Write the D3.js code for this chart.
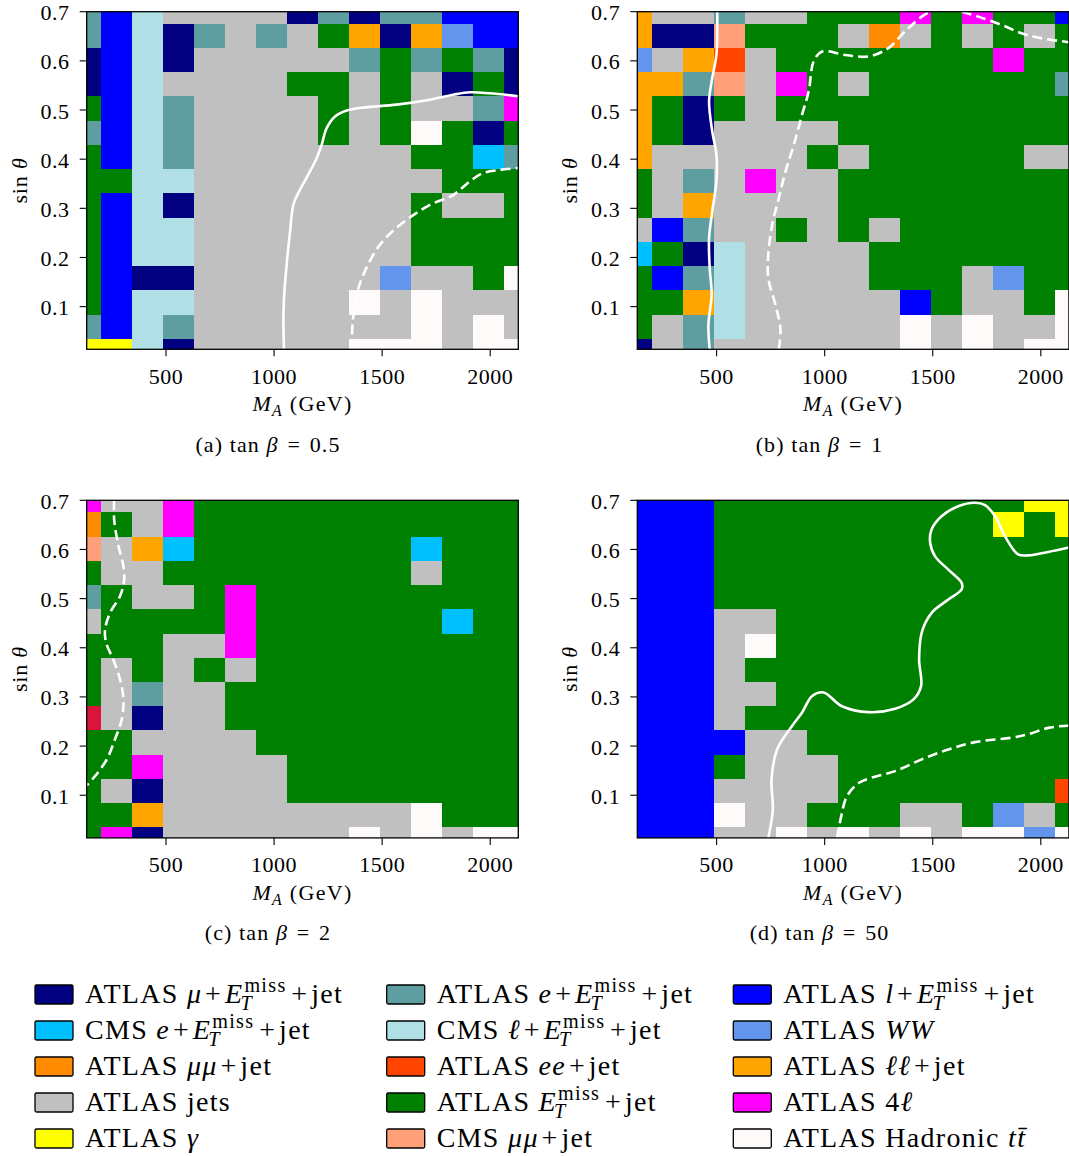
<!DOCTYPE html>
<html><head><meta charset="utf-8">
<script src="https://cdn.jsdelivr.net/npm/d3@7"></script>
<style>
body{margin:0;background:#fff}
svg{display:block}
text{font-family:"Liberation Serif","Times New Roman",serif;fill:#000;white-space:pre}
</style>
</head><body>
<svg id="chart" width="1069" height="1156"></svg>
<script>
// ---------- data ----------
const massCenters = [128,271,415,558,702,845,988,1132,1275,1419,1562,1705,1849,1992,2136];
const sinCenters = [0.7,0.65071,0.60143,0.55214,0.50286,0.45357,0.40429,0.355,0.30571,0.25643,0.20714,0.15786,0.10857,0.05929,0.01];
const xTicks = [500,1000,1500,2000];
const yTicks = [0.1,0.2,0.3,0.4,0.5,0.6,0.7];
const tanBeta = ["0.5","1","2","50"];
const panelTags = ["a","b","c","d"];

const codes = ["N","T","B","D","P","W","O","R","A","S","G","M","Y","L","H","C"];
const palette = ["#000080","#5f9ea0","#0000ff","#00bfff","#b0e0e6","#6495ed","#ff8c00","#ff4500","#ffa500","#c0c0c0","#008000","#ff00ff","#ffff00","#ffa07a","#fffafa","#dc143c"];
const legendLabels = [
  "ATLAS |i:μ|+|E|+|jet",
  "ATLAS |i:e|+|E|+|jet",
  "ATLAS |i:l|+|E|+|jet",
  "CMS |i:e|+|E|+|jet",
  "CMS |i:ℓ|+|E|+|jet",
  "ATLAS |i:WW",
  "ATLAS |i:μμ|+|jet",
  "ATLAS |i:ee|+|jet",
  "ATLAS |i:ℓℓ|+|jet",
  "ATLAS jets",
  "ATLAS |E|+|jet",
  "ATLAS 4|i:ℓ",
  "ATLAS |i:γ",
  "CMS |i:μμ|+|jet",
  "ATLAS Hadronic |i:tt̄"
];

// rows from sinθ = 0.7 (top) to 0.01 (bottom); columns follow massCenters
const gridA = [
  "TBPSSSSNTNTTBBB",
  "TBPNTSTSGANAWBB",
  "NBPNSSSSSTGTGTN",
  "NBPSSSSGGSGSNGN",
  "GBPTSSSSGSGSSTM",
  "TBPTSSSSGSGHGNG",
  "GBPTSSSSSSSGGDT",
  "GGPPSSSSSSSSGGG",
  "GBPNSSSSSSSGSSG",
  "GBPPSSSSSSSGGGG",
  "GBPPSSSSSSSGGGG",
  "GBNNSSSSSSWSSGH",
  "GBPPSSSSSHSHSSS",
  "TBPTSSSSSSSHSHS",
  "YYPNSSSSSHHHSHH"
];
const gridB = [
  "ASSTSSGGGMGMGGB",
  "ANNLGGGSOSGSGSG",
  "WSARSGGGGGGGMGG",
  "AATLSMGSGGGGGGT",
  "AGNGSGGGGGGGGGG",
  "AGNSSSSGGGGGGGG",
  "ASSSSSGSGGGGGSS",
  "GSTSMSSGGGGGGGG",
  "GSASSSSGGGGGGGG",
  "SBTSSGSGSGGGGGG",
  "DGNPSSSSGGGGGGG",
  "GBTPSSSSGGGSWGG",
  "GGAPSSSSSBGSSGH",
  "GSTPSSSSSHSHSSH",
  "NSTSSSSSSHSHSHH"
];
const gridC = [
  "MSSMGGGGGGGGGGG",
  "OGSMGGGGGGGGGGG",
  "LSADGGGGGGGDGGG",
  "GSSGGGGGGGGSGGG",
  "TGSSGMGGGGGGGGG",
  "SGGGGMGGGGGGDGG",
  "GGGSSMGGGGGGGGG",
  "GSGSGSGGGGGGGGG",
  "GSTSSGGGGGGGGGG",
  "CSNSSGGGGGGGGGG",
  "GGSSSSGGGGGGGGG",
  "GGMSSSSGGGGGGGG",
  "GSNSSSSGGGGGGGG",
  "GGASSSSSSSSHGGG",
  "GMNSSSSSSHSHSHH"
];
const gridD = [
  "BBBGGGGGGGGGGYY",
  "BBBGGGGGGGGGYGY",
  "BBBGGGGGGGGGGGG",
  "BBBGGGGGGGGGGGG",
  "BBBGGGGGGGGGGGG",
  "BBBSSGGGGGGGGGG",
  "BBBSHGGGGGGGGGG",
  "BBBSGGGGGGGGGGG",
  "BBBSSGGGGGGGGGG",
  "BBBSGGGGGGGGGGG",
  "BBBBSSGGGGGGGGG",
  "BBBGSSSGGGGGGGG",
  "BBBSSSSGGGGGGGR",
  "BBBHSSGGGSSGWSG",
  "BBBSSHSHSHSHHWH"
];

// contour lines [M_A, sinθ]
const solidA = [[1046,0.0132],[1043,0.070],[1046,0.117],[1058,0.185],[1074,0.253],[1089,0.307],[1112,0.331],[1166,0.375],[1197,0.402],[1220,0.429],[1243,0.463],[1282,0.487],[1336,0.499],[1413,0.505],[1567,0.511],[1721,0.521],[1829,0.531],[1906,0.536],[1998,0.534],[2130,0.528]];
const dashedA = [[1359,0.0132],[1363,0.063],[1382,0.124],[1420,0.172],[1490,0.226],[1582,0.266],[1721,0.307],[1829,0.327],[1906,0.355],[1968,0.372],[2045,0.378],[2130,0.382]];
const solidB = [[503,0.7],[503,0.673],[499,0.612],[477,0.558],[465,0.517],[480,0.456],[499,0.409],[499,0.355],[480,0.294],[465,0.239],[468,0.178],[477,0.124],[462,0.063],[468,0.0132]];
const dashedB1 = [[788,0.0132],[795,0.056],[772,0.104],[739,0.158],[739,0.205],[757,0.266],[788,0.321],[819,0.375],[857,0.429],[895,0.490],[926,0.538],[949,0.599],[988,0.619],[1095,0.612],[1203,0.609],[1295,0.626],[1372,0.660],[1449,0.690],[1488,0.7]];
const dashedB2 = [[1634,0.7],[1711,0.690],[1819,0.673],[1911,0.656],[2003,0.646],[2130,0.638]];
const dashedC = [[260,0.7],[260,0.661],[280,0.607],[303,0.566],[306,0.536],[287,0.505],[241,0.471],[218,0.437],[223,0.410],[256,0.376],[287,0.336],[303,0.295],[295,0.254],[264,0.214],[226,0.173],[172,0.139],[133,0.120]];
const solidD = [[739,0.0132],[760,0.071],[754,0.132],[780,0.193],[849,0.241],[895,0.268],[942,0.302],[995,0.309],[1080,0.281],[1203,0.269],[1326,0.276],[1411,0.295],[1446,0.322],[1437,0.376],[1449,0.431],[1495,0.471],[1572,0.498],[1634,0.519],[1634,0.532],[1572,0.559],[1511,0.586],[1488,0.614],[1495,0.641],[1542,0.668],[1618,0.688],[1695,0.695],[1742,0.690],[1788,0.668],[1834,0.627],[1895,0.590],[1942,0.588],[2034,0.595],[2130,0.604]];
const dashedD = [[1057,0.0132],[1077,0.058],[1103,0.098],[1157,0.125],[1219,0.136],[1326,0.149],[1449,0.173],[1572,0.193],[1695,0.208],[1865,0.217],[1942,0.224],[2034,0.237],[2130,0.242]];

// ---------- layout ----------
const svg = d3.select("#chart");
const color = d3.scaleOrdinal(codes, palette);
const W = 431.6, H = 337.6;
const panels = [
  {grid:gridA, left:86.7, top:11.7, cap:268, solid:[solidA], dashed:[dashedA]},
  {grid:gridB, left:637.3, top:11.7, cap:819.5, solid:[solidB], dashed:[dashedB1,dashedB2]},
  {grid:gridC, left:86.7, top:500.3, cap:268, solid:[], dashed:[dashedC]},
  {grid:gridD, left:637.3, top:500.3, cap:819.5, solid:[solidD], dashed:[dashedD]}
];
const dx = (massCenters[1]-massCenters[0]);
const dy = (sinCenters[0]-sinCenters[1]);
const NB = "\u00A0";

// simple rich-text renderer: roman, italic, E_T^miss, subscript, binary operators
function rich(g, x, y, markup, size, anchor, ls) {
  const grp = g.append("g");
  let cx = 0;
  const put = (t, italic, fs, yOff, xx) => {
    const el = grp.append("text").attr("x", xx).attr("y", yOff).attr("font-size", fs)
      .attr("font-style", italic ? "italic" : "normal")
      .attr("letter-spacing", ls + "px")
      .text(t.replace(/ /g, NB));
    return el.node().getComputedTextLength();
  };
  const pad = size * 0.1;
  markup.split("|").forEach(tok => {
    if (tok === "") return;
    if (tok === "E") {
      cx += put("E", true, size, 0, cx);
      const w1 = put("miss", false, size*0.72, -size*0.40, cx + 1);
      const w2 = put("T", true, size*0.72, size*0.24, cx - 3);
      cx += Math.max(w1 + 1, w2 - 3) + 2;
    } else if (tok === "+" || tok === "=") {
      cx += pad;
      cx += put(tok, false, size, 0, cx);
      cx += pad;
    } else if (tok.startsWith("i:")) {
      cx += put(tok.slice(2), true, size, 0, cx);
    } else if (tok.startsWith("sub:")) {
      cx += put(tok.slice(4), true, size*0.72, size*0.24, cx);
    } else {
      cx += put(tok, false, size, 0, cx);
    }
  });
  const sx = anchor === "middle" ? x - cx/2 : x;
  grp.attr("transform", `translate(${sx},${y})`);
  return grp;
}

panels.forEach((p, k) => {
  const x = d3.scaleLinear().domain([133, 2130]).range([p.left, p.left + W]);
  const y = d3.scaleLinear().domain([0.0132, 0.7]).range([p.top + H, p.top]);
  const clipId = "clip" + k;
  svg.append("clipPath").attr("id", clipId).append("rect")
    .attr("x", p.left).attr("y", p.top).attr("width", W).attr("height", H);
  const g = svg.append("g").attr("clip-path", `url(#${clipId})`);
  const cells = [];
  p.grid.forEach((row, r) => {
    row.split("").forEach((c, ci) => cells.push({r, ci, code: c}));
  });
  g.selectAll("rect.cell").data(cells).join("rect").attr("class", "cell")
    .attr("x", d => x(massCenters[d.ci] - dx/2))
    .attr("y", d => y(sinCenters[d.r] + dy/2))
    .attr("width", d => x(massCenters[d.ci] + dx/2) - x(massCenters[d.ci] - dx/2))
    .attr("height", d => y(sinCenters[d.r] - dy/2) - y(sinCenters[d.r] + dy/2))
    .attr("fill", d => color(d.code))
    .attr("shape-rendering", "crispEdges");

  const line = d3.line().x(d => x(d[0])).y(d => y(d[1])).curve(d3.curveCatmullRom.alpha(0.5));
  p.solid.forEach(s => g.append("path").attr("d", line(s)).attr("fill", "none")
    .attr("stroke", "#fff").attr("stroke-width", 2.6).attr("stroke-linecap", "round"));
  p.dashed.forEach(s => g.append("path").attr("d", line(s)).attr("fill", "none")
    .attr("stroke", "#fff").attr("stroke-width", 2.6).attr("stroke-dasharray", "10,5"));

  // frame
  svg.append("rect").attr("x", p.left).attr("y", p.top).attr("width", W).attr("height", H)
    .attr("fill", "none").attr("stroke", "#000").attr("stroke-width", 1.3);
  const bottom = p.top + H;
  xTicks.forEach(t => {
    svg.append("line").attr("x1", x(t)).attr("x2", x(t)).attr("y1", bottom).attr("y2", bottom + 7)
      .attr("stroke", "#000").attr("stroke-width", 1.1);
    svg.append("text").attr("x", x(t)).attr("y", bottom + 34.2).attr("text-anchor", "middle")
      .attr("font-size", 22).attr("letter-spacing", "0.5px").text(t);
  });
  yTicks.forEach(t => {
    svg.append("line").attr("x1", p.left - 7).attr("x2", p.left).attr("y1", y(t)).attr("y2", y(t))
      .attr("stroke", "#000").attr("stroke-width", 1.1);
    svg.append("text").attr("x", p.left - 17).attr("y", y(t) + 8.5).attr("text-anchor", "end")
      .attr("font-size", 22).attr("letter-spacing", "0.6px").text(t.toFixed(1));
  });
  // x label
  rich(svg, p.left + W/2, bottom + 61.8, "|i:M|sub:A| (GeV)", 22, "middle", 1.3);
  // y label
  const yl = rich(svg, 0, 0, "sin |i:θ", 22, "start", 0.8);
  const wy = yl.node().getBBox().width;
  yl.attr("transform", `translate(${p.left - 60},${p.top + H/2 + wy/2}) rotate(-90)`);
  // caption
  rich(svg, p.cap, bottom + 102.4, `(${panelTags[k]}) tan |i:β| |=| ${tanBeta[k]}`, 22, "middle", 1.1);
});

// ---------- legend ----------
const legCols = [35, 386.7, 733.3];
legendLabels.forEach((lab, i) => {
  const r = Math.floor(i/3), c = i % 3;
  const bx = legCols[c], by = 985 + r*36;
  svg.append("rect").attr("x", bx).attr("y", by).attr("width", 38).attr("height", 19)
    .attr("rx", 1.5).attr("fill", palette[i]).attr("stroke", "#000").attr("stroke-width", 1.3);
  rich(svg, bx + 50, by + 18, lab, 28, "start", 1.3);
});
</script>
</body></html>
